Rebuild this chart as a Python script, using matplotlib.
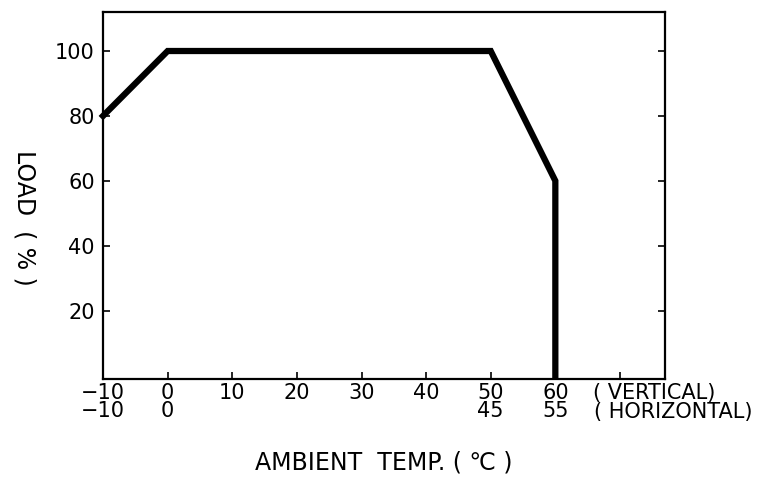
import matplotlib
matplotlib.use("Agg")
import matplotlib.pyplot as plt

# derating curve (vertical mounting)
temp = [-10, 0, 50, 60, 60]
load = [80, 100, 100, 60, 0]

x_ticks = [-10, 0, 10, 20, 30, 40, 50, 60, 70]
x_labels = ["-10\n-10", "0\n0", "10", "20", "30", "40", "50\n45", "60\n55", ""]
y_ticks = [20, 40, 60, 80, 100]
y_labels = ["20", "40", "60", "80", "100"]

fig = plt.figure(figsize=(7.69, 4.82), dpi=100)
ax = fig.add_axes([0.134, 0.214, 0.731, 0.761])

ax.plot(temp, load, color="black", lw=4.5, solid_joinstyle="miter", clip_on=False)

ax.set_xlim(-10, 77)
ax.set_ylim(-1, 112)
ax.set_xticks(x_ticks)
ax.set_xticklabels([l.replace("-", "\u2212") for l in x_labels], fontsize=15,
                   linespacing=0.85)
ax.set_yticks(y_ticks)
ax.set_yticklabels(y_labels, fontsize=15)
ax.tick_params(axis="both", direction="in", length=5, width=1.2, pad=3)
ax.tick_params(axis="y", right=True, pad=6)
for s in ax.spines.values():
    s.set_linewidth(1.6)

# mounting direction notes next to the 60 column
ax.annotate("( VERTICAL)", xy=(60, 0), xycoords=("data", "axes fraction"),
            xytext=(27, -3), textcoords="offset points", ha="left", va="top",
            fontsize=15, annotation_clip=False)
ax.annotate("( HORIZONTAL)", xy=(60, 0), xycoords=("data", "axes fraction"),
            xytext=(28, -16.5), textcoords="offset points", ha="left", va="top",
            fontsize=15, annotation_clip=False)

ax.set_xlabel("AMBIENT  TEMP. ( \u2103 )", fontsize=17)
ax.xaxis.set_label_coords(0.5, -0.195)
ax.set_ylabel("LOAD  ( % )", fontsize=17, rotation=270, va="center")
ax.yaxis.set_label_coords(-0.139, 0.44)

fig.savefig("out.png", dpi=100)
